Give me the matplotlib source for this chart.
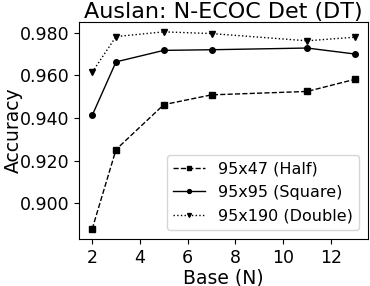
import matplotlib
matplotlib.use("Agg")
import matplotlib.pyplot as plt

base = [2, 3, 5, 7, 11, 13]
half = [0.8878, 0.9252, 0.9463, 0.9509, 0.9525, 0.9582]
square = [0.9412, 0.9664, 0.9718, 0.9721, 0.9729, 0.9701]
double = [0.9615, 0.9783, 0.9805, 0.9797, 0.9763, 0.9780]
labels = ["95x47 (Half)", "95x95 (Square)", "95x190 (Double)"]

fig = plt.figure(figsize=(3.7, 2.86), dpi=100)
ax = fig.add_axes([79/370, 1-239/286, (368-79)/370, (239-22)/286])
ax.plot(base, half, 'k--s', lw=1, ms=4, label=labels[0])
ax.plot(base, square, 'k-o', lw=1, ms=4, label=labels[1])
ax.plot(base, double, 'k:v', lw=1, ms=4, label=labels[2])
ax.set_xticks([2, 4, 6, 8, 10, 12])
ax.set_yticks([0.90, 0.92, 0.94, 0.96, 0.98])
ax.set_yticklabels(["0.900", "0.920", "0.940", "0.960", "0.980"])
ax.tick_params(labelsize=12.5)
ax.set_xlabel("Base (N)", fontsize=13.5, labelpad=1)
ax.set_ylabel("Accuracy", fontsize=13.5)
ax.yaxis.set_label_coords(-(79 - 23) / 289, 0.5)
ax.set_title("Auslan: N-ECOC Det (DT)", fontsize=16, pad=2)
ax.legend(loc="lower right", fontsize=11.5, handlelength=2.0, markerscale=0.7,
          borderaxespad=0.55, labelspacing=0.55)
fig.savefig("out.png", dpi=100)
